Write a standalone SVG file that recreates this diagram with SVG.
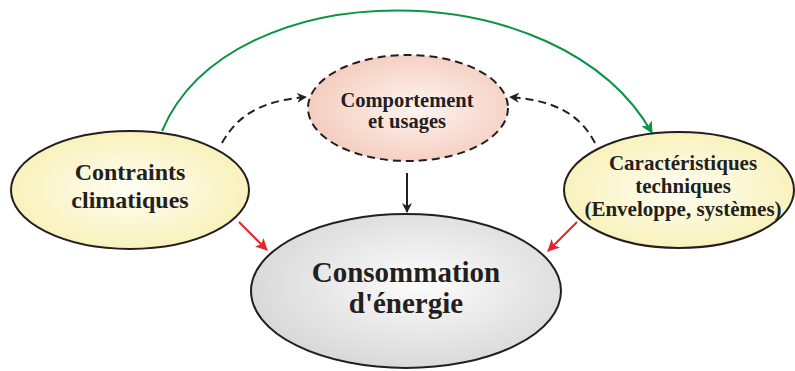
<svg xmlns="http://www.w3.org/2000/svg" width="795" height="371" viewBox="0 0 795 371">
<style>
text{font-family:'Liberation Serif','DejaVu Serif',serif;font-weight:bold;fill:#231f20;text-anchor:middle}
.node{stroke:#231f20;stroke-width:2}
.dash{fill:none;stroke:#231f20;stroke-width:2;stroke-dasharray:8 5}
</style>
<defs>
<radialGradient id="gY" cx="0.5" cy="0.5" r="0.6">
<stop offset="0" stop-color="#fffef4"/>
<stop offset="1" stop-color="#f8efb0"/>
</radialGradient>
<radialGradient id="gP" cx="0.55" cy="0.5" r="0.6">
<stop offset="0" stop-color="#fdf4f0"/>
<stop offset="1" stop-color="#f4c9ba"/>
</radialGradient>
<radialGradient id="gG" cx="0.55" cy="0.45" r="0.6">
<stop offset="0" stop-color="#fcfcfc"/>
<stop offset="1" stop-color="#d6d6d6"/>
</radialGradient>
<marker id="aK" markerWidth="10" markerHeight="10" refX="9" refY="5" orient="auto" markerUnits="userSpaceOnUse">
<path d="M0,0 L10,5 L0,10 L3,5 Z" fill="#231f20"/>
</marker>
<marker id="aG" markerWidth="12" markerHeight="12" refX="11" refY="6" orient="auto" markerUnits="userSpaceOnUse">
<path d="M0,0 L12,6 L0,12 L3,6 Z" fill="#0a9444"/>
</marker>
<marker id="aR" markerWidth="12" markerHeight="12" refX="11" refY="6" orient="auto" markerUnits="userSpaceOnUse">
<path d="M0,0 L12,6 L0,12 L3,6 Z" fill="#e3262b"/>
</marker>
</defs>
<g id="connectors">
<path d="M162,131 C230,-30 560,-30 652,133" fill="none" stroke="#0a9444" stroke-width="2" marker-end="url(#aG)"/>
<path class="dash" d="M222,143 C240,110 270,100 306,97" marker-end="url(#aK)"/>
<path class="dash" d="M595,143 C578,110 548,100 510,97" marker-end="url(#aK)"/>
<path d="M407,173 L407,212" stroke="#231f20" stroke-width="2" marker-end="url(#aK)"/>
<path d="M239,222 L267,250" stroke="#e3262b" stroke-width="2" marker-end="url(#aR)"/>
<path d="M577,222 L548,251" stroke="#e3262b" stroke-width="2" marker-end="url(#aR)"/>
</g>
<g id="contraints">
<ellipse class="node" cx="130" cy="190" rx="119" ry="59" fill="url(#gY)"/>
<text x="130" y="180" font-size="24">Contraints</text>
<text x="130" y="208" font-size="24">climatiques</text>
</g>
<g id="comportement">
<ellipse cx="408" cy="108" rx="100" ry="53" class="dash" style="fill:url(#gP)"/>
<text x="407" y="107" font-size="20.5">Comportement</text>
<text x="407" y="128" font-size="20.5">et usages</text>
</g>
<g id="caracteristiques">
<ellipse class="node" cx="679" cy="190" rx="115" ry="58" fill="url(#gY)"/>
<text x="683" y="170" font-size="21">Caractéristiques</text>
<text x="683" y="193" font-size="21">techniques</text>
<text x="683" y="216" font-size="21">(Enveloppe, systèmes)</text>
</g>
<g id="consommation">
<ellipse class="node" cx="406" cy="291" rx="155" ry="77" fill="url(#gG)"/>
<text x="406" y="282" font-size="29">Consommation</text>
<text x="406" y="313" font-size="29">d'énergie</text>
</g>
</svg>
